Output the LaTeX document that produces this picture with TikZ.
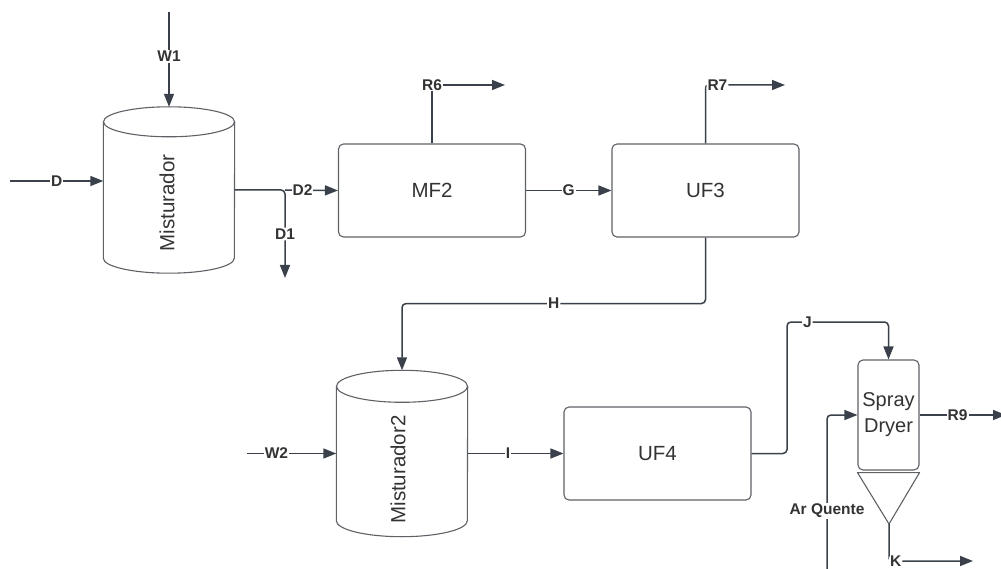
\documentclass[tikz,border=0pt]{standalone}
\usepackage{fontspec}
\setmainfont{Liberation Sans}
\usetikzlibrary{arrows.meta}

\definecolor{linecol}{HTML}{3A414A}
\definecolor{boxcol}{HTML}{5E6166}
\definecolor{txtcol}{HTML}{333333}

\begin{document}
\begin{tikzpicture}[x=1pt, y=-1pt, >={Triangle[length=13pt,width=10pt]},
  unit/.style={draw=boxcol, line width=1.1pt, rounded corners=5pt, minimum width=187pt, minimum height=93pt, inner sep=0pt, font=\fontsize{20.5}{24}\selectfont, text=txtcol},
  tank/.style={minimum width=131pt, minimum height=166pt, inner sep=0pt},
  tankline/.style={draw=boxcol, line width=1.1pt},
  tanktext/.style={rotate=90, inner sep=0pt, font=\fontsize{20.5}{24}\selectfont, text=txtcol},
  flow/.style={->, draw=linecol, line width=1.5pt},
  stream/.style={fill=white, inner sep=1pt, font=\fontsize{15.5}{18}\selectfont\bfseries, text=txtcol}]
\path[fill=white] (0,0) rectangle (1001,569);
\useasboundingbox (0,0) rectangle (1001,569);

% equipment
\node[tank] (mix1) at (169,190) {};
\node[tank] (mix2) at (402,453.5) {};
\node[unit] (mf2) at (432,190.5) {MF2};
\node[unit] (uf3) at (705.5,190.5) {UF3};
\node[unit] (uf4) at (657.5,453.5) {UF4};
\node[unit, minimum width=61pt, minimum height=110pt, align=center, font=\fontsize{20}{26}\selectfont] (spray) at (888.5,415) {Spray\\Dryer};
\coordinate (apex) at (889,524);

% tanks
\draw[tankline] ([yshift=-15pt]mix1.north) ellipse [x radius=65.5pt, y radius=15pt];
\draw[tankline] ([yshift=-15pt]mix1.north west) -- ([yshift=15pt]mix1.south west) arc[start angle=180, end angle=360, x radius=65.5pt, y radius=15pt] -- ([yshift=-15pt]mix1.north east);
\node[tanktext] (mix1lbl) at ([xshift=-2pt,yshift=-13pt]mix1.center) {Misturador};
\draw[tankline] ([yshift=-16pt]mix2.north) ellipse [x radius=65.5pt, y radius=16pt];
\draw[tankline] ([yshift=-16pt]mix2.north west) -- ([yshift=16pt]mix2.south west) arc[start angle=180, end angle=360, x radius=65.5pt, y radius=16pt] -- ([yshift=-16pt]mix2.north east);
\node[tanktext] (mix2lbl) at ([xshift=-4pt,yshift=-16pt]mix2.center) {Misturador2};

% cyclone cone
\draw[tankline, line join=round] ([yshift=-2pt]spray.south west) -- ([yshift=-2pt]spray.south east) -- (apex) -- cycle;

% streams
\coordinate (w1in) at (169,12);
\coordinate (din) at (10,181);
\coordinate (split) at (285,190);
\coordinate (d1end) at (285,278);
\coordinate (r6end) at (505,85);
\coordinate (r7end) at (785,85);
\coordinate (w2in) at (247,453.5);
\coordinate (jup) at (787,322);
\coordinate (r9end) at (1006,415);
\coordinate (arin) at (827,575);
\coordinate (kend) at (973,561);

\draw[flow] (w1in) -- node[stream, pos=0.47] {W1} (mix1.north);
\draw[flow] (din) -- node[stream] {D} (din -| mix1.west);
\draw[flow, rounded corners=4pt] (mix1.east) -- (split) -- node[stream] {D1} (d1end);
\draw[flow] (split) -- node[stream, pos=0.33] {D2} (mf2.west);
\draw[flow] (mf2.north) |- node[stream, pos=0.5] {R6} (r6end);
\draw[flow] (mf2.east) -- node[stream] {G} (uf3.west);
\draw[flow, rounded corners=3pt] (uf3.north) |- node[stream, pos=0.575] {R7} (r7end);
\draw[flow, rounded corners=4pt] (uf3.south) -- ++(0,66) -| node[stream, pos=0.25] {H} (mix2.north);
\draw[flow] (w2in) -- node[stream, pos=0.33] {W2} (mix2.west);
\draw[flow] (mix2.east) -- node[stream, pos=0.42] {I} (uf4.west);
\draw[flow, rounded corners=4pt] (uf4.east) -| (jup) -| node[stream, pos=0.1] {J} (spray.north);
\draw[flow] (spray.east) -- node[stream, pos=0.44] {R9} (r9end);
\draw[flow, rounded corners=4pt] (arin) |- node[stream, pos=0.2] {Ar Quente} (spray.west);
\draw[flow, rounded corners=3pt] (apex) |- node[stream, pos=0.54] {K} (kend);
\end{tikzpicture}
\end{document}
